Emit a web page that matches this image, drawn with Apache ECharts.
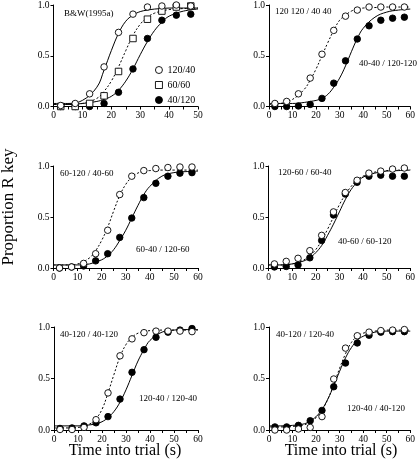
<!DOCTYPE html>
<html><head><meta charset="utf-8">
<script src="https://cdn.jsdelivr.net/npm/echarts@6/dist/echarts.min.js"></script>
<style>html,body{margin:0;padding:0;background:#fff}#c{width:418px;height:464px}</style>
</head><body><div id="c"></div>
<script>
// ---- data ----
const ptsX50 = [2.5, 7.5, 12.5, 17.5, 22.5, 27.5, 32.5, 37.5, 42.5, 47.5];
const ptsX60 = [2.5, 7.5, 12.5, 17.5, 22.5, 27.5, 32.5, 37.5, 42.5, 47.5, 52.5, 57.5];
const curveX = [0, 5, 10, 15, 17.5, 20, 22.5, 25, 27.5, 30, 32.5, 35, 37.5, 40, 45, 50, 55, 60];

// Panel 1 (B&W 1995a)
const p1Open = [0.01, 0.03, 0.125, 0.39, 0.73, 0.91, 0.98, 0.99, 1.0, 0.99];
const p1Square = [0.0, 0.0, 0.03, 0.105, 0.345, 0.67, 0.86, 0.94, 0.98, 0.99];
const p1Filled = [0.0, 0.0, 0.0, 0.03, 0.14, 0.37, 0.67, 0.85, 0.90, 0.91];
const p1CurveA = [0.03, 0.03, 0.06, 0.19, 0.36, 0.55, 0.72, 0.84, 0.9, 0.935, 0.95, 0.96, 0.965, 0.97, 0.97, 0.97];
const p1CurveB = [0.02, 0.02, 0.03, 0.08, 0.15, 0.25, 0.39, 0.55, 0.7, 0.81, 0.88, 0.92, 0.94, 0.955, 0.965, 0.97];
const p1CurveC = [0.02, 0.02, 0.03, 0.05, 0.07, 0.1, 0.16, 0.25, 0.37, 0.51, 0.64, 0.75, 0.83, 0.89, 0.94, 0.96];

// Panel 2
const p2Open = [0.03, 0.05, 0.125, 0.28, 0.515, 0.75, 0.89, 0.95, 0.98, 0.98, 0.98, 0.98];
const p2Filled = [0.0, 0.0, 0.005, 0.02, 0.08, 0.23, 0.45, 0.665, 0.795, 0.85, 0.87, 0.88];
const p2Dotted = [0.02, 0.03, 0.07, 0.17, 0.26, 0.37, 0.5, 0.63, 0.75, 0.85, 0.9, 0.94, 0.96, 0.97, 0.975, 0.98, 0.98, 0.98];
const p2Solid = [0.03, 0.03, 0.03, 0.04, 0.05, 0.06, 0.08, 0.12, 0.19, 0.28, 0.4, 0.54, 0.67, 0.77, 0.88, 0.93, 0.95, 0.96];

// Panel 3
const p3Open = [0.0, 0.01, 0.045, 0.14, 0.37, 0.72, 0.9, 0.955, 0.975, 0.985, 0.99, 0.99];
const p3Filled = [0.0, 0.01, 0.02, 0.07, 0.14, 0.3, 0.49, 0.69, 0.83, 0.9, 0.93, 0.935];
const p3Dotted = [0.03, 0.03, 0.04, 0.1, 0.17, 0.27, 0.4, 0.56, 0.71, 0.82, 0.89, 0.93, 0.95, 0.955, 0.96, 0.96, 0.96, 0.96];
const p3Solid = [0.03, 0.03, 0.03, 0.04, 0.06, 0.08, 0.12, 0.18, 0.27, 0.37, 0.49, 0.61, 0.72, 0.8, 0.9, 0.935, 0.945, 0.95];

// Panel 4
const p4Open = [0.04, 0.065, 0.095, 0.17, 0.32, 0.55, 0.74, 0.86, 0.93, 0.95, 0.97, 0.98];
const p4Filled = [0.01, 0.015, 0.03, 0.10, 0.27, 0.52, 0.725, 0.84, 0.9, 0.91, 0.9, 0.9];
const p4Dotted = [0.03, 0.03, 0.04, 0.08, 0.12, 0.18, 0.27, 0.38, 0.5, 0.62, 0.72, 0.8, 0.86, 0.9, 0.94, 0.955, 0.96, 0.965];
const p4Solid = [0.03, 0.03, 0.04, 0.07, 0.1, 0.15, 0.22, 0.32, 0.43, 0.55, 0.67, 0.77, 0.84, 0.89, 0.93, 0.95, 0.955, 0.96];

// Panel 5
const p5Open = [0.005, 0.005, 0.025, 0.10, 0.36, 0.72, 0.885, 0.945, 0.96, 0.96, 0.96, 0.955];
const p5Filled = [0.015, 0.02, 0.04, 0.07, 0.13, 0.30, 0.56, 0.78, 0.90, 0.95, 0.97, 0.985];
const p5Dotted = [0.02, 0.02, 0.025, 0.06, 0.11, 0.2, 0.36, 0.54, 0.71, 0.83, 0.9, 0.94, 0.955, 0.965, 0.97, 0.97, 0.97, 0.97];
const p5Solid = [0.04, 0.04, 0.04, 0.05, 0.06, 0.08, 0.12, 0.18, 0.27, 0.39, 0.53, 0.67, 0.78, 0.87, 0.95, 0.97, 0.975, 0.975];

// Panel 6
const p6Open = [0.0, 0.0, 0.01, 0.025, 0.13, 0.495, 0.795, 0.915, 0.95, 0.965, 0.97, 0.975];
const p6Filled = [0.03, 0.03, 0.045, 0.09, 0.19, 0.42, 0.65, 0.845, 0.92, 0.95, 0.955, 0.955];
const p6Dotted = [0.03, 0.03, 0.035, 0.05, 0.08, 0.12, 0.19, 0.3, 0.44, 0.6, 0.74, 0.85, 0.91, 0.94, 0.96, 0.97, 0.97, 0.97];
const p6Solid = [0.04, 0.04, 0.045, 0.06, 0.09, 0.13, 0.2, 0.3, 0.43, 0.57, 0.7, 0.8, 0.87, 0.91, 0.95, 0.96, 0.96, 0.96];

const legendNames = ['120/40', '60/60', '40/120'];
const yTicks = ['0.0', '0.5', '1.0'];

// ---- build ----
const FONT = 'Liberation Serif';
const zip = (xs, ys) => ys.map((y, i) => [xs[i], y]);

const grids = [
  {left: 53.5, top: 5, width: 144.5, height: 101.5},
  {left: 269, top: 5, width: 142.5, height: 101.5},
  {left: 53.5, top: 166, width: 144.5, height: 102},
  {left: 268.5, top: 166, width: 142.5, height: 102},
  {left: 54, top: 327, width: 144, height: 103},
  {left: 269, top: 327, width: 142, height: 103}
];
const xMax = [50, 60, 60, 60, 60, 60];

const axisCommon = {
  axisLine: {show: true, lineStyle: {color: '#000', width: 1}},
  axisTick: {show: true, length: 3, inside: false, lineStyle: {color: '#000', width: 1}},
  splitLine: {show: false},
  axisLabel: {color: '#000', fontFamily: FONT, fontSize: 9.5, margin: 4}
};

const xAxes = grids.map((g, i) => Object.assign({}, axisCommon, {
  type: 'value', gridIndex: i, min: 0, max: xMax[i], interval: 10,
  minorTick: {show: true, splitNumber: 2, length: 3, lineStyle: {color: '#000', width: 1}},
  minorSplitLine: {show: false}
}));
const yAxes = grids.map((g, i) => Object.assign({}, axisCommon, {
  type: 'value', gridIndex: i, min: 0, max: 1, interval: 0.5,
  axisLabel: Object.assign({}, axisCommon.axisLabel, {formatter: v => yTicks[Math.round(v * 2)]})
}));

function line(i, ys, dotted) {
  return {
    type: 'line', xAxisIndex: i, yAxisIndex: i, data: zip(curveX, ys),
    smooth: 0.4, showSymbol: false, symbol: 'none', silent: true, z: 2,
    lineStyle: {color: '#000', width: 1, type: dotted ? [2, 2] : 'solid'}
  };
}
function scat(i, xs, ys, kind, name) {
  const open = kind !== 'filled';
  return {
    type: 'scatter', name: name, xAxisIndex: i, yAxisIndex: i, data: zip(xs, ys),
    symbol: kind === 'square' ? 'rect' : 'circle',
    symbolSize: kind === 'square' ? 6.5 : 6.5, clip: false, z: open ? 4 : 3,
    itemStyle: {color: open ? '#fff' : '#000', borderColor: '#000', borderWidth: 0.9, opacity: 1}
  };
}

const series = [
  line(0, p1CurveA, false), line(0, p1CurveB, true), line(0, p1CurveC, false),
  scat(0, ptsX50, p1Filled, 'filled', legendNames[2]),
  scat(0, ptsX50, p1Square, 'square', legendNames[1]),
  scat(0, ptsX50, p1Open, 'open', legendNames[0]),

  line(1, p2Dotted, true), line(1, p2Solid, false),
  scat(1, ptsX60, p2Filled, 'filled'), scat(1, ptsX60, p2Open, 'open'),

  line(2, p3Dotted, true), line(2, p3Solid, false),
  scat(2, ptsX60, p3Filled, 'filled'), scat(2, ptsX60, p3Open, 'open'),

  line(3, p4Dotted, true), line(3, p4Solid, false),
  scat(3, ptsX60, p4Filled, 'filled'), scat(3, ptsX60, p4Open, 'open'),

  line(4, p5Dotted, true), line(4, p5Solid, false),
  scat(4, ptsX60, p5Filled, 'filled'), scat(4, ptsX60, p5Open, 'open'),

  line(5, p6Dotted, true), line(5, p6Solid, false),
  scat(5, ptsX60, p6Filled, 'filled'), scat(5, ptsX60, p6Open, 'open')
];

function txt(x, y, s, size, extra) {
  return Object.assign({
    type: 'text', x: x, y: y, silent: true,
    style: {text: s, fill: '#000', fontFamily: FONT, fontSize: size || 9, textVerticalAlign: 'middle', textAlign: 'left'}
  }, extra || {});
}

const graphic = [
  txt(64, 13.5, 'B&W(1995a)'),
  txt(275, 11.5, '120 120 / 40 40'),
  txt(359, 63.5, '40-40 / 120-120'),
  txt(60, 173.5, '60-120 / 40-60'),
  txt(136, 249.5, '60-40 / 120-60'),
  txt(278, 172.5, '120-60 / 60-40'),
  txt(338, 241.5, '40-60 / 60-120'),
  txt(60, 334.5, '40-120 / 40-120'),
  txt(139, 398.5, '120-40 / 120-40'),
  txt(276, 334.5, '40-120 / 120-40'),
  txt(347, 408.5, '120-40 / 40-120'),
  {type: 'text', x: 125, y: 451, silent: true,
   style: {text: 'Time into trial (s)', fill: '#000', fontFamily: FONT, fontSize: 16, textAlign: 'center', textVerticalAlign: 'middle'}},
  {type: 'text', x: 341, y: 451, silent: true,
   style: {text: 'Time into trial (s)', fill: '#000', fontFamily: FONT, fontSize: 16, textAlign: 'center', textVerticalAlign: 'middle'}},
  {type: 'text', x: 9, y: 207, rotation: Math.PI / 2, silent: true,
   style: {text: 'Proportion R key', fill: '#000', fontFamily: FONT, fontSize: 17, textAlign: 'center', textVerticalAlign: 'middle'}}
];

const chart = echarts.init(document.getElementById('c'), null, {renderer: 'canvas'});
chart.setOption({
  animation: false,
  backgroundColor: '#fff',
  grid: grids,
  xAxis: xAxes,
  yAxis: yAxes,
  legend: {
    data: legendNames, orient: 'vertical', left: 155, top: 64, itemGap: 3, padding: 0,
    itemWidth: 7, itemHeight: 7, selectedMode: false,
    itemStyle: {borderWidth: 0.9},
    textStyle: {fontFamily: FONT, fontSize: 10, color: '#000', lineHeight: 12}
  },
  series: series,
  graphic: graphic
});
</script></body></html>
